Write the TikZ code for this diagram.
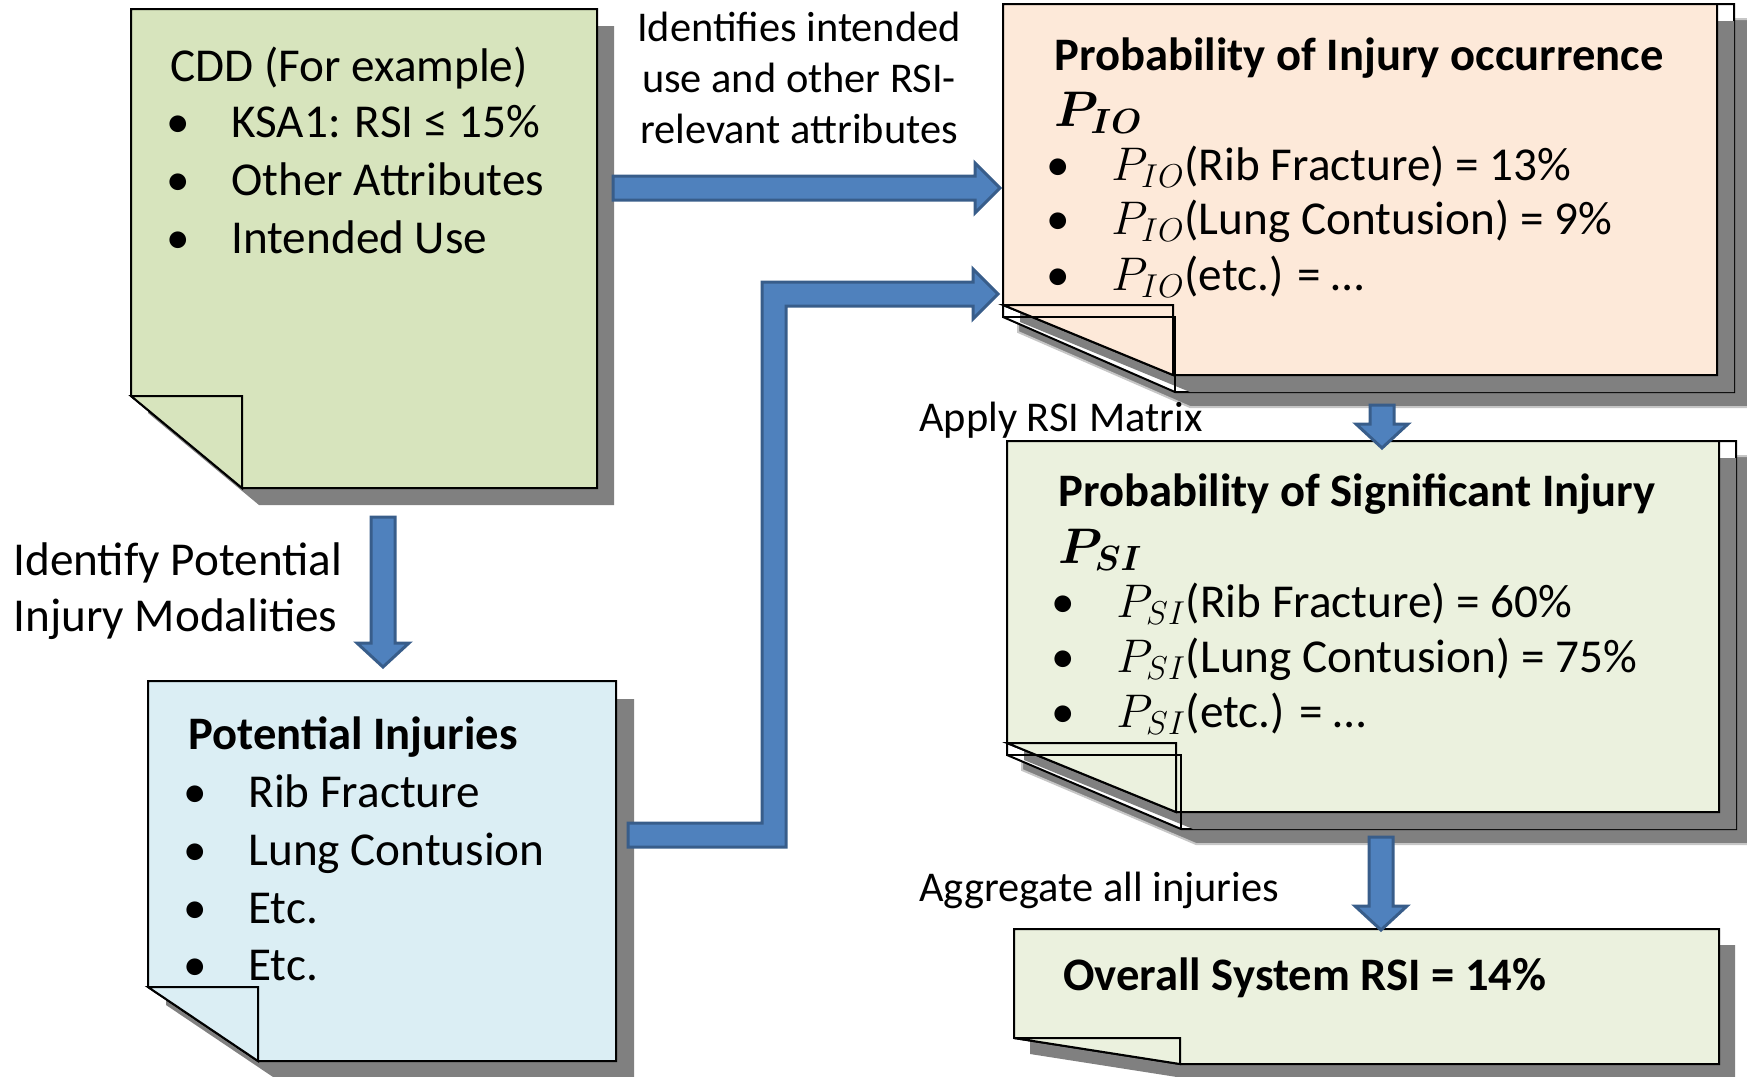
\RequirePackage{fix-cm}
\documentclass[tikz,border=0pt]{standalone}
\usepackage{fontspec}
\setmainfont{Carlito}
\usepackage{amsmath}
\usepackage{bm}
\usepackage{tikz}
\usetikzlibrary{calc}

\definecolor{cddgreen}{HTML}{D7E4BD}
\definecolor{injblue}{HTML}{DBEEF4}
\definecolor{ioorange}{HTML}{FDE9D9}
\definecolor{sigreen}{HTML}{EBF1DE}
\definecolor{arrowblue}{HTML}{4F81BD}
\definecolor{arrowedge}{HTML}{385D8A}
\definecolor{papergray}{HTML}{808080}

\newcommand{\bodyfont}{\fontsize{23.6}{28}\selectfont}
\newcommand{\titlefont}{\fontsize{23.3}{28}\selectfont\bfseries}
\newcommand{\labelfont}{\fontsize{21.2}{25}\selectfont}
\newcommand{\itm}[1]{\makebox[32.5pt][l]{\textbullet}#1}

\tikzset{
  box/.style={draw=none, inner sep=0pt, outer sep=0pt, anchor=north west},
  pageline/.style={draw=black, line width=1pt, line join=miter},
  papershadow/.style={fill=papergray},
  blockarrow/.style={fill=arrowblue, draw=arrowedge, line width=1.5pt, line join=miter},
  txt/.style={anchor=base west, inner sep=0pt, font=\bodyfont},
  title/.style={txt, font=\titlefont},
  lbl/.style={txt, font=\labelfont},
  lblc/.style={lbl, anchor=base}
}

% sheet with folded corner and drop shadow
\newcommand{\paper}[5]{%
  \fill[papershadow] ($(#1.north west)+(#5,#5)$) -- ($(#1.north east)+(#5,#5)$) -- ($(#1.south east)+(#5,#5)$) -- ($(#1.south west)+(#3+#5,#5)$) -- ($(#1.south west)+(#5,#5-#4)$) -- cycle;
  \filldraw[fill=#2, pageline] (#1.north west) -- (#1.north east) -- (#1.south east) -- ($(#1.south west)+(#3,0)$) -- ($(#1.south west)+(0,-#4)$) -- cycle;
  \filldraw[fill=#2, pageline] ($(#1.south west)+(0,-#4)$) -- ($(#1.south west)+(#3,-#4)$) -- ($(#1.south west)+(#3,0)$) -- cycle;
}

% two stacked sheets
\newcommand{\stackedpaper}[6]{%
  \filldraw[papershadow, draw=gray!45, line width=1pt] ($(#1.north west)+(15,15)$) -- ($(#1.north east)+(32,15)$) -- ($(#1.south east)+(32,32)$) -- ($(#1.south west)+(#5+15,32)$) -- ($(#1.south west)+(15,32-#6)$) -- cycle;
  \filldraw[fill=white, pageline] (#1.north west) -- ($(#1.north east)+(17,0)$) -- ($(#1.south east)+(17,17)$) -- ($(#1.south west)+(#5,17)$) -- ($(#1.south west)+(0,17-#6)$) -- cycle;
  \fill[papershadow] ($(#1.north west)+(17,17)$) -- ($(#1.north east)+(17,17)$) -- ($(#1.south east)+(17,17)$) -- ($(#1.south west)+(#3+17,17)$) -- ($(#1.south west)+(17,17-#4)$) -- cycle;
  \filldraw[fill=#2, pageline] (#1.north west) -- (#1.north east) -- (#1.south east) -- ($(#1.south west)+(#3,0)$) -- ($(#1.south west)+(0,-#4)$) -- cycle;
  \filldraw[fill=#2, pageline] ($(#1.south west)+(0,-#4)$) -- ($(#1.south west)+(#3,-#4)$) -- ($(#1.south west)+(#3,0)$) -- cycle;
  \draw[pageline] ($(#1.south west)+(0,17-#6)$) -- ($(#1.south west)+(#5,17-#6)$) -- ($(#1.south west)+(#5,17)$);
}

\newcommand{\harrow}[2]{%
  \filldraw[blockarrow] ($(#1)+(0,-12)$) -- ($(#2)+(-25,-12)$) -- ($(#2)+(-25,-25)$) -- (#2) -- ($(#2)+(-25,25)$) -- ($(#2)+(-25,12)$) -- ($(#1)+(0,12)$) -- cycle;
}
\newcommand{\varrow}[2]{%
  \filldraw[blockarrow] ($(#1)+(-12,0)$) -- ($(#2)+(-12,-24)$) -- ($(#2)+(-26,-24)$) -- (#2) -- ($(#2)+(26,-24)$) -- ($(#2)+(12,-24)$) -- ($(#1)+(12,0)$) -- cycle;
}

\begin{document}
\begin{tikzpicture}[x=0.5pt,y=-0.5pt]
\useasboundingbox (0,0) rectangle (1747,1077);
\clip (0,0) rectangle (1747,1077);

% the sheets
\node[box, minimum width=233pt, minimum height=239.5pt] (cdd) at (131,9) {};
\node[box, minimum width=234pt, minimum height=190pt] (inj) at (148,681) {};
\node[box, minimum width=357pt, minimum height=185.5pt] (pio) at (1003,4) {};
\node[box, minimum width=356pt, minimum height=185.5pt] (psi) at (1007,441) {};
\node[box, minimum width=352.5pt, minimum height=67.5pt] (rsi) at (1014,929) {};

\paper{cdd}{cddgreen}{111}{92}{17}
\paper{inj}{injblue}{110}{74}{18}
\stackedpaper{pio}{ioorange}{170}{70}{172}{75}
\stackedpaper{psi}{sigreen}{169}{69}{174}{74}
\paper{rsi}{sigreen}{166}{26}{16}

% block arrows
\coordinate (a1) at ($(cdd.north east)+(16,179)$);
\coordinate (a2) at ($(pio.north west)+(-3,184)$);
\harrow{a1}{a2}

\coordinate (b1) at ($(inj.north east)+(12,154)$);
\coordinate (b2) at ($(pio.north west)+(-5,290)$);
\coordinate (bk) at (774,0);
\filldraw[blockarrow] ($(b1)+(0,-12)$) -- ($(b1 -| bk)+(-12,-12)$) -- ($(b2 -| bk)+(-12,-12)$) -- ($(b2)+(-25,-12)$) -- ($(b2)+(-25,-25)$) -- (b2) -- ($(b2)+(-25,25)$) -- ($(b2)+(-25,12)$) -- ($(b2 -| bk)+(12,12)$) -- ($(b1 -| bk)+(12,12)$) -- ($(b1)+(0,12)$) -- cycle;

\coordinate (c1) at ($(cdd.south west)+(252,29)$);
\coordinate (c2) at ($(inj.north west)+(235,-14)$);
\varrow{c1}{c2}

\coordinate (d1) at ($(pio.south west)+(379,30)$);
\coordinate (d2) at ($(psi.north west)+(375,7)$);
\varrow{d1}{d2}

\coordinate (e1) at ($(psi.south west)+(374,25)$);
\coordinate (e2) at ($(rsi.north west)+(367,1)$);
\varrow{e1}{e2}

% CDD
\node[txt] (cdd-t) at (170,81) {CDD (For example)};
\node[txt] (cdd-1) at (166,137) {\itm{KSA1: RSI ≤ 15\%}};
\node[txt] (cdd-2) at (166,195) {\itm{Other Attributes}};
\node[txt] (cdd-3) at (166,253) {\itm{Intended Use}};

% potential injuries
\node[title] (inj-t) at (188,749) {Potential Injuries};
\node[txt] (inj-1) at (183,807) {\itm{Rib Fracture}};
\node[txt] (inj-2) at (183,865) {\itm{Lung Contusion}};
\node[txt] (inj-3) at (183,923) {\itm{Etc.}};
\node[txt] (inj-4) at (183,980) {\itm{Etc.}};

% injury occurrence
\node[title] (pio-t) at (1054,70) {Probability of Injury occurrence};
\node[txt, font=\fontsize{25}{30}\selectfont] (pio-p) at (1054,126) {$\bm{P_{IO}}$};
\node[txt] (pio-1) at (1046,180) {\itm{$P_{IO}$(Rib Fracture) = 13\%}};
\node[txt] (pio-2) at (1046,234) {\itm{$P_{IO}$(Lung Contusion) = 9\%}};
\node[txt] (pio-3) at (1046,290) {\itm{$P_{IO}$(etc.) = …}};

% significant injury
\node[title] (psi-t) at (1058,506) {Probability of Significant Injury};
\node[txt, font=\fontsize{25}{30}\selectfont] (psi-p) at (1058,563) {$\bm{P_{SI}}$};
\node[txt] (psi-1) at (1051,617) {\itm{$P_{SI}$(Rib Fracture) = 60\%}};
\node[txt] (psi-2) at (1051,672) {\itm{$P_{SI}$(Lung Contusion) = 75\%}};
\node[txt] (psi-3) at (1051,727) {\itm{$P_{SI}$(etc.) = …}};

% overall
\node[title] (rsi-t) at (1063,990) {Overall System RSI = 14\%};

% arrow labels
\node[lblc] (lbl-a1) at (799,41) {Identifies intended};
\node[lblc] (lbl-a2) at (799,92) {use and other RSI-};
\node[lblc] (lbl-a3) at (799,143) {relevant attributes};
\node[lbl] (lbl-d) at (919,431) {Apply RSI Matrix};
\node[lbl] (lbl-e) at (919,901) {Aggregate all injuries};
\node[txt] (lbl-c1) at (13,575) {Identify Potential};
\node[txt] (lbl-c2) at (13,631) {Injury Modalities};
\end{tikzpicture}
\end{document}
